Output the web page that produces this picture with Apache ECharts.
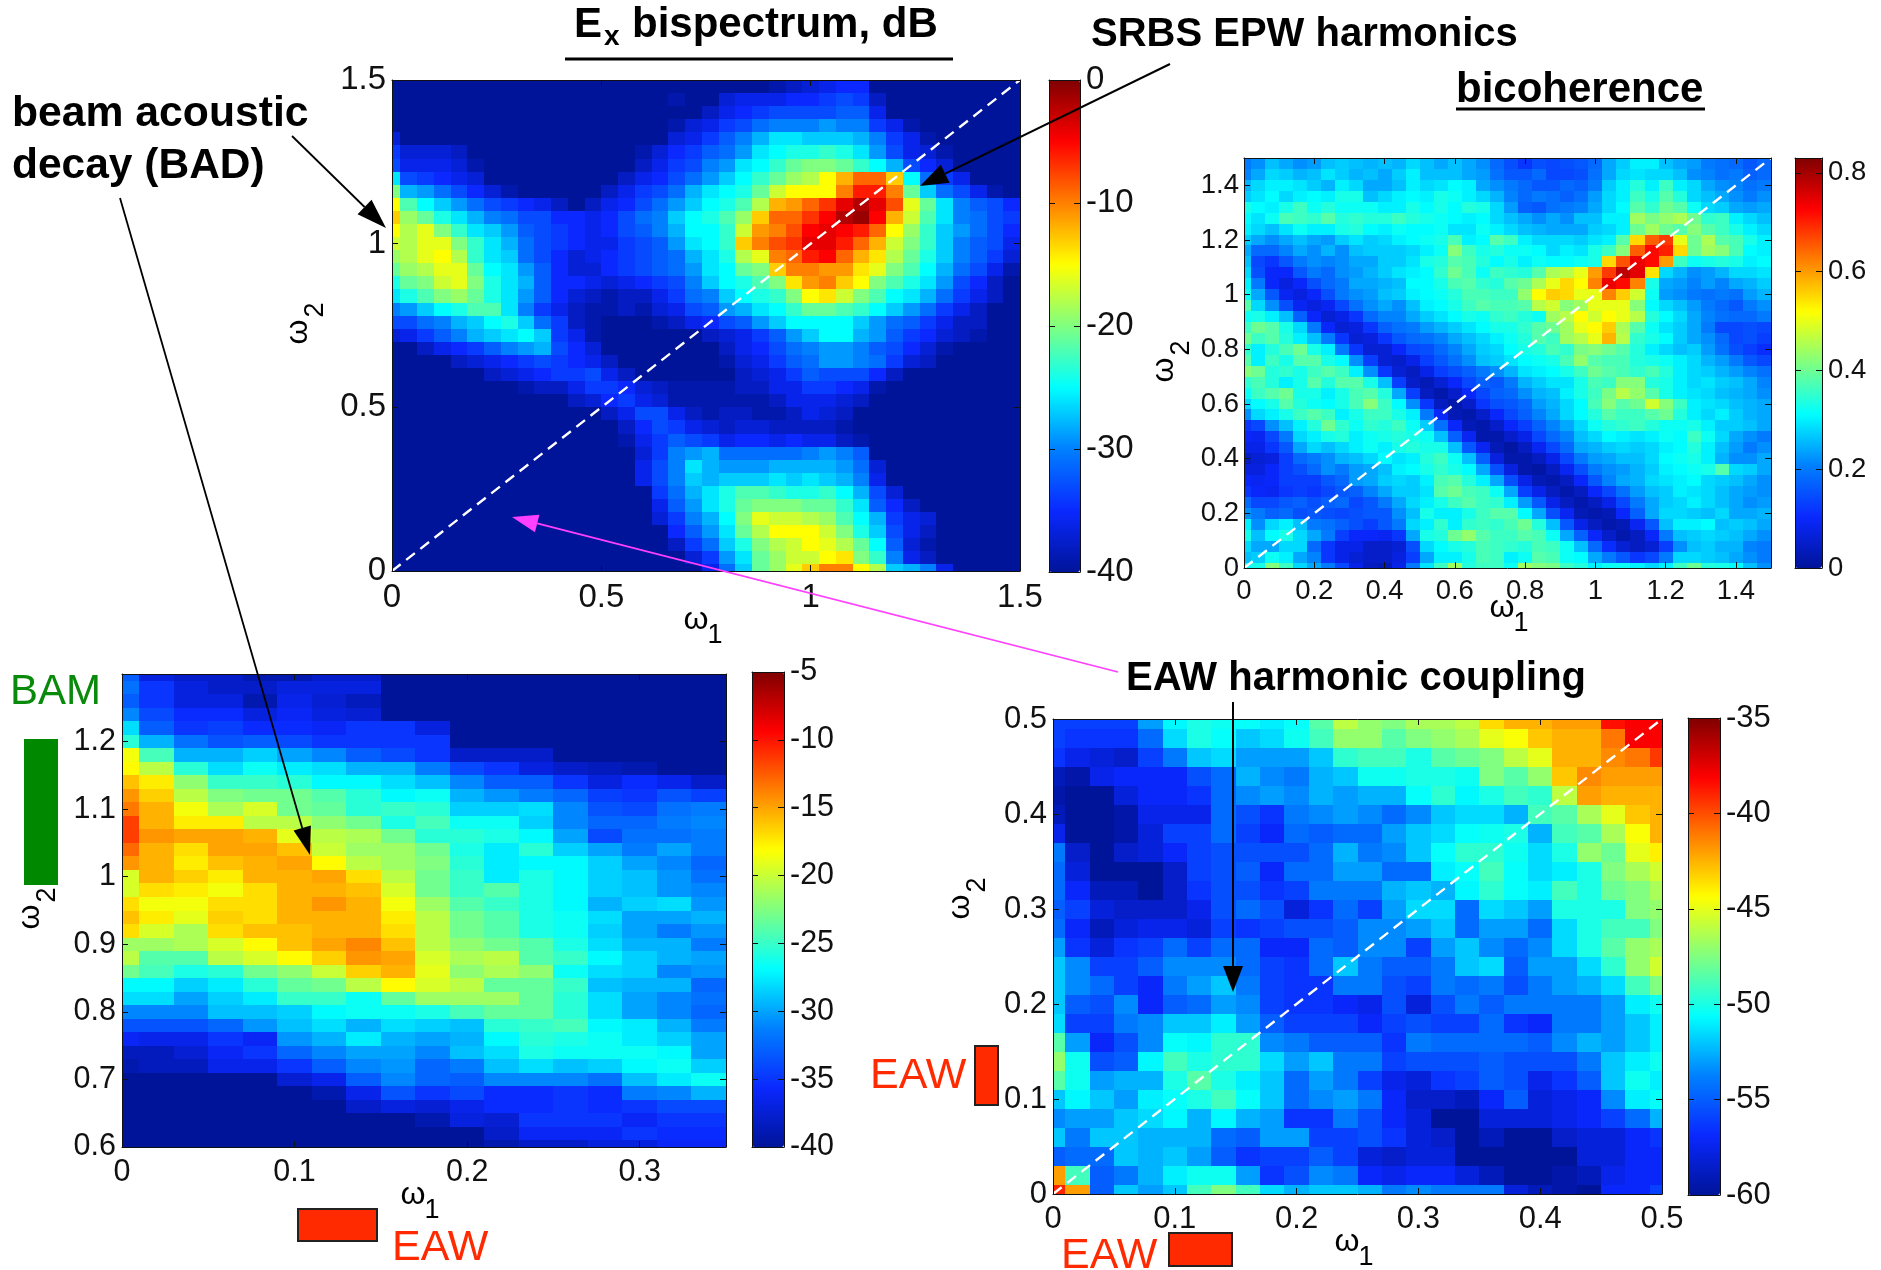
<!DOCTYPE html>
<html><head><meta charset="utf-8"><title>Bispectrum and bicoherence</title>
<style>html,body{margin:0;padding:0;background:#fff}#c{width:1881px;height:1270px}</style>
<script src="https://cdn.jsdelivr.net/npm/echarts@6/dist/echarts.min.js"></script></head>
<body><div id="c"></div>
<script>
// Top-left: Ex bispectrum, dB. Rows run from w2=1.48 down to w2=0, columns from w1=0 in steps of 0.04.
const bispectrumDb = [
[-40,-40,-40,-40,-40,-40,-40,-40,-40,-40,-40,-40,-40,-40,-40,-40,-40,-40,-40,-40,-40,-40,-40,-39,-38,-37,-36,-35,-35,-40,-40,-40,-40,-40,-40,-40,-40,-40],
[-40,-40,-40,-40,-40,-40,-40,-40,-40,-40,-40,-40,-40,-40,-40,-40,-40,-39,-40,-40,-37,-36,-36,-36,-35,-35,-34,-33,-34,-38,-40,-40,-40,-40,-40,-40,-40,-40],
[-40,-40,-40,-40,-40,-40,-40,-40,-40,-40,-40,-40,-40,-40,-40,-40,-40,-40,-40,-38,-36,-35,-34,-33,-33,-33,-33,-32,-32,-36,-40,-40,-40,-40,-40,-40,-40,-40],
[-40,-40,-40,-40,-40,-40,-40,-40,-40,-40,-40,-40,-40,-40,-40,-40,-40,-39,-37,-36,-34,-33,-31,-30,-30,-30,-29,-30,-30,-34,-36,-39,-40,-40,-40,-40,-40,-40],
[-37,-40,-40,-40,-40,-40,-40,-40,-40,-40,-40,-40,-40,-40,-40,-40,-40,-37,-36,-34,-32,-30,-28,-26,-26,-27,-27,-27,-28,-30,-34,-36,-39,-40,-40,-40,-40,-40],
[-34,-37,-37,-37,-38,-40,-40,-40,-40,-40,-40,-40,-40,-40,-40,-39,-37,-35,-34,-32,-31,-29,-26,-25,-24,-24,-23,-24,-26,-29,-33,-36,-37,-39,-40,-40,-40,-40],
[-33,-36,-36,-36,-37,-39,-40,-40,-40,-40,-40,-40,-40,-40,-40,-38,-36,-34,-33,-30,-29,-26,-25,-23,-21,-20,-20,-21,-23,-25,-28,-33,-35,-37,-40,-40,-40,-40],
[-26,-33,-34,-35,-36,-37,-40,-40,-40,-40,-40,-40,-40,-40,-38,-36,-35,-33,-31,-29,-27,-25,-23,-21,-19,-18,-15,-12,-9,-9,-13,-25,-31,-34,-36,-40,-40,-40],
[-20,-28,-29,-31,-33,-35,-37,-39,-40,-40,-40,-40,-40,-38,-36,-34,-33,-31,-28,-26,-25,-24,-21,-17,-15,-15,-15,-10,-6,-6,-10,-21,-27,-31,-33,-36,-39,-40],
[-15,-22,-25,-27,-29,-31,-33,-34,-35,-36,-38,-40,-38,-36,-35,-33,-31,-29,-27,-25,-24,-22,-18,-12,-11,-9,-7,-4,-2,-4,-8,-16,-21,-26,-30,-32,-33,-35],
[-13,-19,-21,-24,-26,-28,-30,-31,-33,-33,-35,-35,-36,-35,-33,-31,-30,-27,-25,-24,-22,-19,-13,-9,-9,-7,-5,-2,-1,-5,-12,-17,-22,-26,-30,-31,-33,-34],
[-15,-18,-16,-20,-23,-26,-27,-29,-32,-33,-34,-35,-36,-35,-33,-32,-30,-28,-25,-25,-23,-17,-11,-10,-8,-5,-4,-5,-6,-9,-15,-19,-23,-27,-29,-31,-33,-35],
[-17,-18,-16,-16,-20,-23,-26,-28,-31,-33,-34,-35,-36,-36,-34,-33,-32,-29,-26,-25,-23,-13,-10,-8,-7,-4,-4,-6,-9,-12,-17,-20,-23,-27,-30,-32,-33,-36],
[-19,-18,-16,-15,-18,-23,-26,-27,-31,-33,-35,-37,-36,-35,-34,-33,-32,-31,-28,-26,-24,-18,-16,-10,-9,-6,-5,-9,-12,-14,-18,-21,-24,-27,-30,-32,-34,-37],
[-21,-19,-18,-16,-16,-21,-25,-26,-29,-32,-35,-37,-37,-35,-34,-33,-32,-31,-29,-26,-25,-21,-20,-13,-10,-10,-11,-11,-14,-16,-20,-22,-25,-28,-31,-33,-36,-39],
[-24,-21,-20,-17,-16,-20,-24,-26,-28,-32,-35,-35,-36,-37,-36,-35,-34,-33,-30,-27,-25,-24,-22,-20,-14,-11,-10,-13,-15,-20,-22,-24,-26,-29,-33,-35,-38,-40],
[-26,-24,-22,-20,-19,-21,-24,-26,-29,-32,-35,-37,-38,-39,-38,-38,-36,-34,-31,-30,-27,-25,-24,-23,-20,-15,-14,-17,-20,-22,-25,-26,-28,-31,-34,-36,-38,-40],
[-30,-29,-27,-25,-24,-22,-22,-26,-30,-34,-36,-38,-39,-39,-38,-39,-37,-36,-33,-32,-29,-28,-26,-25,-23,-21,-21,-22,-23,-25,-27,-29,-31,-34,-36,-38,-40,-40],
[-33,-33,-31,-30,-28,-27,-25,-24,-27,-31,-34,-38,-39,-40,-40,-40,-39,-38,-36,-35,-33,-32,-29,-27,-25,-25,-25,-25,-27,-29,-31,-32,-34,-36,-38,-38,-40,-40],
[-37,-36,-34,-32,-30,-28,-27,-26,-25,-27,-34,-36,-39,-40,-40,-40,-40,-40,-40,-38,-37,-36,-34,-32,-29,-27,-25,-25,-28,-29,-32,-34,-35,-37,-38,-39,-40,-40],
[-40,-40,-38,-36,-35,-34,-32,-30,-29,-28,-33,-35,-37,-40,-40,-40,-40,-40,-40,-40,-38,-36,-35,-33,-31,-30,-29,-29,-30,-32,-33,-35,-37,-39,-40,-40,-40,-40],
[-40,-40,-40,-40,-38,-37,-36,-35,-34,-33,-34,-35,-36,-38,-40,-40,-40,-40,-40,-40,-39,-37,-36,-34,-32,-31,-29,-29,-30,-31,-34,-37,-38,-40,-40,-40,-40,-40],
[-40,-40,-40,-40,-40,-40,-38,-37,-36,-35,-34,-34,-33,-36,-38,-40,-40,-40,-40,-40,-40,-38,-37,-36,-34,-32,-33,-33,-33,-35,-38,-40,-40,-40,-40,-40,-40,-40],
[-40,-40,-40,-40,-40,-40,-40,-40,-39,-38,-38,-36,-34,-34,-35,-37,-38,-39,-39,-39,-39,-38,-38,-36,-36,-34,-34,-35,-36,-39,-40,-40,-40,-40,-40,-40,-40,-40],
[-40,-40,-40,-40,-40,-40,-40,-40,-40,-40,-40,-38,-37,-35,-34,-36,-37,-39,-39,-39,-39,-39,-39,-38,-36,-36,-36,-37,-38,-40,-40,-40,-40,-40,-40,-40,-40,-40],
[-40,-40,-40,-40,-40,-40,-40,-40,-40,-40,-40,-40,-40,-38,-36,-33,-33,-36,-38,-39,-38,-38,-39,-39,-38,-36,-37,-38,-40,-40,-40,-40,-40,-40,-40,-40,-40,-40],
[-40,-40,-40,-40,-40,-40,-40,-40,-40,-40,-40,-40,-40,-40,-38,-35,-33,-34,-36,-37,-38,-37,-37,-38,-38,-38,-38,-39,-40,-40,-40,-40,-40,-40,-40,-40,-40,-40],
[-40,-40,-40,-40,-40,-40,-40,-40,-40,-40,-40,-40,-40,-40,-39,-36,-34,-32,-33,-34,-36,-35,-35,-36,-35,-36,-36,-38,-39,-40,-40,-40,-40,-40,-40,-40,-40,-40],
[-40,-40,-40,-40,-40,-40,-40,-40,-40,-40,-40,-40,-40,-40,-40,-37,-34,-30,-29,-28,-31,-31,-31,-31,-31,-30,-29,-30,-32,-40,-40,-40,-40,-40,-40,-40,-40,-40],
[-40,-40,-40,-40,-40,-40,-40,-40,-40,-40,-40,-40,-40,-40,-40,-36,-33,-30,-26,-28,-29,-29,-29,-28,-28,-28,-28,-29,-31,-37,-40,-40,-40,-40,-40,-40,-40,-40],
[-40,-40,-40,-40,-40,-40,-40,-40,-40,-40,-40,-40,-40,-40,-40,-36,-33,-30,-27,-28,-27,-27,-27,-26,-27,-26,-27,-28,-30,-36,-40,-40,-40,-40,-40,-40,-40,-40],
[-40,-40,-40,-40,-40,-40,-40,-40,-40,-40,-40,-40,-40,-40,-40,-40,-34,-31,-28,-26,-24,-22,-22,-23,-24,-24,-23,-25,-28,-33,-37,-40,-40,-40,-40,-40,-40,-40],
[-40,-40,-40,-40,-40,-40,-40,-40,-40,-40,-40,-40,-40,-40,-40,-40,-36,-32,-29,-26,-24,-21,-20,-20,-20,-21,-21,-23,-26,-32,-35,-38,-40,-40,-40,-40,-40,-40],
[-40,-40,-40,-40,-40,-40,-40,-40,-40,-40,-40,-40,-40,-40,-40,-40,-37,-34,-30,-28,-25,-20,-16,-17,-17,-18,-19,-22,-25,-28,-34,-36,-37,-40,-40,-40,-40,-40],
[-40,-40,-40,-40,-40,-40,-40,-40,-40,-40,-40,-40,-40,-40,-40,-40,-40,-35,-32,-29,-26,-21,-18,-15,-15,-15,-17,-20,-24,-27,-33,-36,-38,-40,-40,-40,-40,-40],
[-40,-40,-40,-40,-40,-40,-40,-40,-40,-40,-40,-40,-40,-40,-40,-40,-40,-38,-34,-31,-27,-24,-20,-18,-17,-15,-16,-18,-21,-25,-32,-37,-39,-40,-40,-40,-40,-40],
[-40,-40,-40,-40,-40,-40,-40,-40,-40,-40,-40,-40,-40,-40,-40,-40,-40,-40,-37,-34,-29,-26,-21,-19,-17,-17,-15,-14,-20,-23,-30,-36,-38,-40,-40,-40,-40,-40],
[-40,-40,-40,-40,-40,-40,-40,-40,-40,-40,-40,-40,-40,-40,-40,-40,-40,-40,-40,-36,-31,-27,-21,-19,-16,-13,-10,-10,-15,-18,-27,-28,-30,-36,-40,-40,-40,-40]
];
// Top-right: bicoherence in hundredths. Rows from w2=1.48 down to 0, columns from w1=0 in steps of 0.04.
const bicoherencePct = [
[20,22,26,24,22,23,26,27,26,25,26,25,28,26,24,26,24,22,18,15,12,15,14,15,16,18,24,27,30,30,26,24,23,20,19,18,16,18],
[21,24,28,27,25,26,29,27,25,26,24,27,30,26,26,26,24,23,19,16,16,18,14,14,15,19,24,28,29,28,28,26,22,21,19,20,17,18],
[25,28,30,30,29,27,25,30,28,24,24,26,30,28,29,31,30,24,22,20,18,16,16,18,17,20,27,30,34,30,36,30,28,24,22,21,19,20],
[27,29,31,28,30,31,30,33,33,26,28,30,31,30,33,32,30,28,25,21,18,20,19,17,19,23,28,30,36,33,38,34,28,26,24,22,20,22],
[33,31,30,33,36,32,34,32,32,32,30,30,33,31,33,31,34,33,28,23,17,16,19,20,21,24,28,31,38,35,40,38,32,28,27,24,23,24],
[31,29,32,37,36,35,38,34,35,34,34,36,34,33,32,31,30,31,28,26,24,22,24,22,26,26,30,30,44,41,43,45,40,35,36,30,28,26],
[30,28,26,29,32,30,30,33,34,31,30,32,31,31,32,29,29,32,30,28,26,25,24,24,24,27,28,30,40,44,40,38,42,38,36,33,30,28],
[27,24,22,24,26,24,23,27,29,27,28,30,31,32,33,37,30,31,38,36,30,28,28,28,27,29,30,38,55,65,68,50,40,45,38,37,33,30],
[24,18,18,21,24,22,25,22,26,27,27,27,28,30,32,42,36,33,34,32,32,31,28,30,29,33,36,42,65,72,70,55,40,44,42,37,31,30],
[26,14,12,16,20,22,21,22,24,24,27,27,29,33,34,38,37,34,31,33,30,32,31,31,32,33,55,66,74,72,60,36,32,33,34,33,30,31],
[28,15,10,10,16,20,18,22,23,25,27,29,30,31,35,40,37,32,36,35,34,38,45,46,50,60,68,78,75,54,28,25,22,23,25,28,28,29],
[30,20,10,7,10,15,18,20,24,24,25,26,31,31,33,37,38,35,34,38,40,45,50,55,52,62,74,72,62,33,24,23,21,23,21,24,25,27],
[32,24,16,9,7,10,15,20,22,23,26,27,30,31,32,34,37,37,36,36,43,52,56,55,50,50,62,56,48,32,23,22,20,19,20,19,23,25],
[38,28,22,15,9,7,9,14,19,22,24,22,26,30,31,33,36,38,37,37,38,46,48,42,44,50,50,50,42,31,28,26,23,20,18,16,20,22],
[32,33,30,26,17,10,6,8,12,18,21,21,24,27,29,31,33,32,35,36,34,32,44,46,52,48,52,50,46,34,31,28,24,21,19,18,18,20],
[36,40,38,33,28,20,10,6,7,12,17,19,20,23,25,27,29,31,33,33,35,38,40,44,50,52,56,45,38,32,29,27,24,20,14,14,15,14],
[40,36,38,34,30,26,20,12,6,7,12,16,18,19,21,24,26,28,30,32,34,38,36,44,46,50,58,46,35,33,31,27,24,22,18,14,15,13],
[35,30,34,37,40,33,30,20,12,6,6,10,14,15,18,21,24,27,28,31,33,34,37,35,41,42,40,38,34,30,28,26,27,23,19,15,13,11],
[38,30,36,33,38,38,33,31,22,13,6,5,8,13,16,19,22,26,27,29,31,32,33,37,43,38,37,37,34,33,32,30,28,25,23,20,16,14],
[42,40,34,35,33,36,38,36,30,22,12,6,4,8,13,15,17,20,22,25,29,30,31,33,36,40,38,37,35,37,34,30,28,27,25,23,21,19],
[35,37,34,30,33,38,34,38,38,33,26,13,5,3,6,10,14,17,16,20,25,27,29,29,33,37,36,42,42,34,33,30,28,29,27,26,24,21],
[32,36,38,40,33,33,30,33,37,38,34,24,13,4,2,5,10,14,17,18,22,25,26,30,33,36,41,46,43,38,33,30,29,28,26,25,24,22],
[28,31,33,38,34,32,31,33,37,42,36,31,22,12,4,2,5,12,15,16,18,23,25,28,31,37,42,38,40,48,42,36,30,29,28,26,25,24],
[22,28,30,33,36,38,36,30,33,36,36,33,30,20,10,3,2,5,10,14,17,21,24,28,31,34,38,36,36,38,40,34,30,28,30,27,25,24],
[12,14,22,26,30,34,40,35,32,35,34,36,32,27,19,10,3,2,5,10,13,17,21,24,28,32,34,35,36,34,32,32,33,30,27,27,26,24],
[10,9,14,20,28,30,33,34,30,32,33,34,33,32,26,17,9,2,2,5,8,14,18,21,26,28,31,30,29,30,32,31,36,32,28,24,22,20],
[8,8,12,16,24,28,26,28,30,32,30,33,34,33,33,26,16,9,3,1,4,9,14,18,24,25,27,28,27,28,30,31,34,30,26,23,20,22],
[4,6,7,13,18,20,22,25,26,28,31,29,30,34,36,32,26,17,7,2,2,4,8,14,20,23,24,26,26,28,31,32,33,30,25,22,22,24],
[7,7,10,13,15,18,22,20,23,24,26,30,31,33,35,33,31,24,15,7,2,1,4,9,15,20,22,23,25,27,30,31,32,33,38,28,27,24],
[10,9,10,13,13,13,16,18,23,24,27,28,27,30,37,38,34,30,24,15,8,3,2,4,10,16,21,24,25,28,29,30,31,28,27,26,24,22],
[12,10,9,12,13,12,14,16,17,21,24,27,27,29,38,40,37,36,32,24,13,8,4,2,4,10,14,19,23,26,27,30,29,28,26,24,23,22],
[18,14,14,16,17,15,17,18,14,16,20,24,28,30,33,36,38,36,35,30,23,16,8,4,2,4,8,14,20,24,27,28,30,28,26,24,22,23],
[22,20,17,18,15,16,15,14,15,16,16,22,26,33,30,30,33,36,38,38,31,24,15,9,3,2,3,10,17,24,28,28,27,26,28,24,24,25],
[30,22,28,30,26,20,19,17,15,13,16,20,28,30,35,30,35,36,35,37,40,34,26,16,8,4,2,3,9,16,26,30,30,31,26,27,26,24],
[33,26,31,33,28,24,20,13,10,10,9,12,24,33,34,40,43,38,36,36,38,37,32,24,17,10,5,2,4,10,20,26,27,28,27,26,24,22],
[28,24,24,28,28,18,12,8,8,5,5,6,15,28,31,33,34,37,36,35,34,37,36,32,26,18,11,6,4,6,13,22,26,27,25,25,21,20],
[26,27,32,30,24,21,12,8,6,5,5,7,13,24,30,30,33,37,36,30,32,38,37,32,31,24,20,16,12,14,20,28,28,27,26,24,22,20],
[32,33,42,36,28,24,20,14,8,4,3,8,20,29,36,44,34,36,36,32,44,42,41,36,34,30,32,32,30,28,30,36,40,34,33,31,26,22]
];
// Bottom-left: dB. Rows from w2=1.30 down to 0.60 in steps of 0.02, columns from w1=0 to 0.34 in steps of 0.02.
const beamAcousticDb = [
[-33,-37,-38,-38,-39,-39,-38,-38,-40,-40,-40,-40,-40,-40,-40,-40,-40,-40],
[-32,-35,-37,-38,-38,-37,-37,-37,-40,-40,-40,-40,-40,-40,-40,-40,-40,-40],
[-33,-35,-37,-37,-39,-36.5,-37.5,-38.5,-40,-40,-40,-40,-40,-40,-40,-40,-40,-40],
[-31,-34,-35.5,-35.5,-37,-36,-37,-37.5,-40,-40,-40,-40,-40,-40,-40,-40,-40,-40],
[-28,-33,-35,-34.5,-35.5,-35.5,-36,-35,-35,-37,-40,-40,-40,-40,-40,-40,-40,-40],
[-25.5,-29.5,-32,-33.5,-33,-34,-35,-35,-35,-35,-40,-40,-40,-40,-40,-40,-40,-40],
[-18.5,-24.5,-29.5,-29.5,-28.5,-30,-31,-33,-34,-35,-38,-38,-38,-40,-40,-40,-40,-40],
[-18,-20.5,-25.5,-28,-26.5,-27.5,-28,-29.5,-29.5,-31.5,-34,-35,-37,-38,-38.5,-39,-40,-40],
[-16,-17.5,-22,-25,-25,-25.5,-27,-27,-28,-29,-31,-33,-33,-35,-37,-35.5,-36.5,-38],
[-14.5,-16.5,-20.5,-22.5,-23,-23,-24,-25.5,-27,-26.5,-29.5,-30.5,-31.5,-32.5,-34.5,-35,-33.5,-34.5],
[-13.5,-15.5,-18.5,-21,-19.5,-23,-23.5,-25.5,-25,-25.5,-28.5,-28.5,-28,-31,-33.5,-34,-32,-31.5],
[-11.5,-15.5,-17.5,-17.5,-20.5,-20.5,-22,-23,-26,-24.5,-26.5,-26.5,-28.5,-31,-32.5,-32.5,-31.5,-31],
[-11.5,-14.5,-15,-15,-15.5,-19,-20.5,-21,-23,-25.5,-25.5,-26,-27,-30,-34,-32,-32,-31.5],
[-13,-15.5,-17,-15,-15,-16,-20,-21.5,-21.5,-23,-26,-27.5,-25.5,-28.5,-30,-31.5,-30,-31.5],
[-14.5,-15.5,-17.5,-16,-15.5,-15,-18,-20.5,-21.5,-22.5,-25.5,-27.5,-27,-27,-28.5,-30,-31,-32.5],
[-19.5,-15.5,-16.5,-17.5,-15.5,-15.5,-15,-17,-20.5,-23,-25,-27.5,-26,-27,-28.5,-29,-30.5,-32],
[-19.5,-17,-17.5,-18.5,-17,-15.5,-15.5,-16,-19.5,-23,-25,-24,-26,-27,-28.5,-29,-30.5,-31],
[-17,-18.5,-18.5,-17,-17,-15.5,-14.5,-15.5,-18.5,-21.5,-24,-25,-26,-27,-29.5,-28.5,-28,-30.5],
[-16,-17.5,-19,-16.5,-17,-15.5,-15.5,-15.5,-17.5,-20.5,-23,-24,-26,-26.5,-28,-30,-30,-29.5],
[-17,-19.5,-21,-17,-16,-16,-15.5,-15.5,-17,-20.5,-23,-24,-26,-26.5,-28.5,-30,-31.5,-30.5],
[-21.5,-21.5,-21,-19.5,-18,-16,-15,-14,-16,-20.5,-22,-23,-24,-26,-28,-29.5,-29.5,-31.5],
[-20.5,-24,-24,-20.5,-19.5,-18,-16.5,-14.5,-15,-19.5,-21,-20.5,-24,-25,-27,-28.5,-29.5,-30],
[-23,-24.5,-26,-25.5,-23,-22,-20,-16.5,-15.5,-19,-22,-21,-22,-26.5,-28,-28.5,-31,-30.5],
[-27,-27,-28.5,-27.5,-25.5,-23.5,-23,-20.5,-18,-19.5,-20.5,-23.5,-23.5,-25,-29,-29.5,-29.5,-32.5],
[-28,-28,-30,-28.5,-27.5,-25,-25,-26.5,-23.5,-21.5,-21.5,-21.5,-23.5,-25.5,-28,-30,-31,-32],
[-31,-31,-31,-29,-29,-28.5,-27,-26.5,-26.5,-26,-24.5,-23.5,-23.5,-25.5,-28,-30,-31,-32.5],
[-33.5,-33.5,-33.5,-32.5,-30.5,-29,-28,-29.5,-28,-28.5,-29,-25.5,-25,-24.5,-27,-27.5,-29.5,-31.5],
[-36,-36.5,-36.5,-35,-36,-30.5,-29.5,-27.5,-29.5,-30,-29.5,-27,-25.5,-26,-26.5,-27.5,-28.5,-30],
[-38.5,-38.5,-37.5,-36,-35,-32.5,-31,-30,-30,-31,-29,-28,-26,-26.5,-26.5,-26.5,-27,-30],
[-39,-38.5,-38.5,-36.5,-36.5,-35,-33,-31,-30.5,-32.5,-31.5,-29,-28,-29,-28.5,-27,-26.5,-28.5],
[-40,-40,-40,-40,-40,-37.5,-36.5,-33,-31,-32.5,-33,-31,-31,-31,-32,-29,-27.5,-26.5],
[-40,-40,-40,-40,-40,-40,-39,-36.5,-33.5,-35,-34,-35.5,-35.5,-35,-35.5,-31.5,-31,-29.5],
[-40,-40,-40,-40,-40,-40,-40,-38,-37,-37.5,-36.5,-35.5,-35.5,-35,-35.5,-35,-34,-34],
[-40,-40,-40,-40,-40,-40,-40,-40,-40,-39,-37,-37.5,-35,-35,-35,-36,-35,-35],
[-40,-40,-40,-40,-40,-40,-40,-40,-40,-40,-40,-38,-36,-36,-36,-35,-35.5,-35.5],
[-40,-40,-40,-40,-40,-40,-40,-40,-40,-40,-40,-39,-38,-38,-37,-37,-36,-36]
];
// Bottom-right: dB. Rows from w2=0.50 down to 0, columns from w1=0 to 0.50, both in steps of 0.02.
const harmonicCouplingDb = [
[-56,-56,-56,-56,-53,-50.8,-50,-50.3,-50.5,-51,-50.5,-48.5,-46,-47,-47.5,-46.5,-46.5,-46,-43.5,-42.5,-42.5,-42,-42,-38.5,-38,-38],
[-56,-56.5,-56.5,-56.5,-54.5,-51.5,-50,-50.5,-52,-51.5,-50.3,-49,-47,-47,-48.5,-47.5,-47,-46.5,-45,-44.5,-43,-42.5,-42.5,-41,-38,-38],
[-56.5,-57.5,-58,-58.5,-56,-54,-52,-51.5,-53,-53,-53,-52,-49.5,-49,-49,-50,-48.5,-48,-47.5,-46,-45,-42.5,-42.5,-41.5,-41,-39.5],
[-59,-59.5,-57.5,-57,-57,-57,-55.5,-54.5,-52.5,-53.5,-54,-52.5,-52,-50.3,-50.3,-50,-50,-50.3,-47.5,-48.5,-47,-43,-41.5,-42,-42,-42],
[-59.5,-60,-60,-58,-57,-57,-56.5,-54.5,-53.5,-53,-53.5,-52.5,-53,-52.5,-52.5,-50.5,-49.5,-50.8,-50,-49,-49.5,-46,-42,-42.5,-42.5,-42.5],
[-59,-60,-60,-59.5,-57.5,-57.5,-57.5,-54.5,-55.5,-56.5,-54,-53.5,-53,-53.5,-54.5,-53.5,-52,-51.5,-51.5,-52.5,-49,-48.5,-46.5,-45,-43,-42.5],
[-57.5,-60,-60,-59.5,-58,-56,-56,-54.5,-56,-57,-54.5,-55,-54.5,-54.5,-53,-52,-51.5,-50.5,-50.3,-50,-52.5,-49,-48.5,-46.5,-44.5,-42.5],
[-54,-58.5,-60,-58.5,-58,-57,-56,-55.5,-55.5,-55.5,-55.5,-54.5,-52.5,-54,-53.5,-52,-50.5,-49.5,-49.5,-50.3,-51.5,-50,-47,-48,-45,-44],
[-54.5,-58,-60,-60,-60,-58.5,-56,-55.5,-55,-57,-54.5,-54.5,-53,-53,-54.5,-54.5,-51,-50.5,-49,-50.5,-51.5,-51,-50,-47.5,-46.5,-45.5],
[-54.5,-57,-59,-59,-60,-58.5,-56.5,-55.5,-55.5,-56.5,-56,-54,-54,-54,-52.5,-52,-52.5,-50.8,-49.5,-50.5,-51,-49,-50,-48,-47.5,-46.5],
[-55,-56,-58,-58.5,-58.5,-58.5,-57.5,-55.5,-54.5,-55.5,-58,-56.5,-54.5,-56,-53,-51.5,-51.5,-54.5,-51.5,-52,-53,-50,-50,-50,-47.5,-47],
[-54.5,-57,-59,-58,-57.5,-57.5,-58,-56,-56.5,-56,-55.5,-55.5,-55,-53.5,-53.5,-53,-52,-54.5,-53,-53,-54.5,-51.5,-50,-49,-49,-47.5],
[-53,-56.5,-58,-56.5,-56,-54.5,-56,-54.5,-54.5,-57,-57,-54.5,-55,-53.5,-53.5,-56,-53,-52,-53.5,-54.5,-53.5,-51.5,-50,-48.5,-47,-46.5],
[-52,-53.5,-56,-56,-55,-53.5,-53.5,-53.5,-54.5,-56,-56.5,-54.5,-52,-54,-55,-55,-54,-52,-51.5,-55,-53,-53,-51.5,-49.5,-47,-45.5],
[-52,-53.5,-54.5,-56,-57,-54,-53,-52,-54,-56,-56.5,-56.5,-54,-54,-55.5,-56,-54,-54.5,-54,-55.5,-54,-53,-52.5,-51.5,-49,-47.5],
[-52,-55,-55.5,-53.5,-57,-55,-54.5,-53,-53.5,-56,-56.5,-56.5,-57,-57.5,-55.5,-58,-55.5,-54,-55,-54,-54,-54,-54,-53,-51,-50.3],
[-51.5,-56,-56,-54,-53.5,-52,-52,-51,-53,-55,-56,-56,-56,-57,-56,-55.5,-56,-56,-54.5,-56.5,-57,-54,-54,-53,-52,-51],
[-48.5,-53,-57,-55.5,-53.5,-50.5,-50.8,-49.5,-49.5,-53.5,-54,-55,-55,-55,-56.5,-54,-54.5,-54.5,-54.5,-54.5,-55,-53.5,-52.5,-53,-52,-51],
[-47,-50.3,-55.5,-55,-50.8,-49,-50,-49.5,-49.5,-51.5,-53,-52,-54,-54,-56,-55.5,-55.5,-55.5,-55,-55.5,-55.5,-55.5,-54,-52,-51,-50.3],
[-48.5,-50.3,-53,-52.5,-52.5,-50,-48.5,-50,-51,-52,-54.5,-53,-54,-56,-57.5,-58,-56.5,-56,-55,-55.5,-57.5,-56.5,-55,-52,-50.3,-51],
[-52,-50.8,-52,-53,-51,-50.5,-50,-49,-50.5,-52,-54.5,-53.5,-53,-54,-57,-58.5,-58.5,-59,-57,-55,-58,-57.5,-57,-53.5,-51,-50.5],
[-53.5,-53,-53,-52,-51.5,-50.8,-52.5,-50.8,-52.5,-53,-56.5,-56.5,-54,-55.5,-57,-58,-60,-60,-58,-58,-58,-57.5,-57,-56,-54.5,-52.5],
[-52,-54,-52,-52,-52.5,-52.5,-52.5,-54.5,-55,-53,-53,-56,-56,-55.5,-56.5,-58,-58.5,-60,-59,-60,-60,-58.5,-58,-58,-57,-56.5],
[-55,-54.5,-54.5,-52,-52.5,-52,-53,-55,-56.5,-56,-56,-55,-56,-58,-58.5,-58,-58,-60,-60,-60,-60,-60,-58,-58,-57,-57],
[-42,-49,-55,-54,-52.5,-51,-50.3,-50.3,-53,-56.5,-55.5,-53.5,-54,-57,-57.5,-57,-57,-58,-59,-60,-60,-59.5,-59,-57.5,-57,-57],
[-39,-42,-55,-52,-53,-52,-49,-47.5,-49,-51.5,-52.5,-52,-52,-52.5,-54,-53.5,-54,-54,-54,-58,-59,-59.5,-60,-57,-57,-56]
];
const diagonalFull = [[0,0],[1.5,1.5]];
const diagonalLow = [[0,0],[0.5,0.5]];

// jet colour ramp as it appears in the reference
const jet = ['#001499','#0a28ff','#0080ff','#00ffff','#80ff80','#ffff00','#ff8000','#ff0000','#800000'];
const FONT = '"Liberation Sans", Arial, sans-serif';

// panel layouts in page pixels
const panels = [
 {box:[392,80,628,491], cbar:[1049,80,31,492], rows:bispectrumDb, scale:1, step:0.04, x:[0,1.5,0.5], y:[0,1.5,0.5], range:[-40,0], cbStep:10, diag:diagonalFull, font:33, hideMax:false, margin:10},
 {box:[1244,158,527,410], cbar:[1795,158,27,410], rows:bicoherencePct, scale:0.01, step:0.04, x:[0,1.5,0.2], y:[0,1.5,0.2], range:[0,0.83], cbStep:0.2, diag:diagonalFull, font:27.5, hideMax:true, margin:9},
 {box:[122,674,604,473], cbar:[752,672,32,475], rows:beamAcousticDb, scale:1, step:0.02, x:[0,0.35,0.1], y:[0.6,1.3,0.1], range:[-40,-5], cbStep:5, diag:null, font:30.5, hideMax:true, margin:10},
 {box:[1053,719,609,475], cbar:[1688,718,32,477], rows:harmonicCouplingDb, scale:1, step:0.02, x:[0,0.5,0.1], y:[0,0.5,0.1], range:[-60,-35], cbStep:5, diag:diagonalLow, font:31, hideMax:false, margin:10}
];

function cell(step){
  return function(params, api){
    const x = api.value(0), y = api.value(1);
    const a = api.coord([x - step/2, y + step/2]);
    const b = api.coord([x + step/2, y - step/2]);
    const x0 = Math.round(a[0]), y0 = Math.round(a[1]);
    const rect = echarts.graphic.clipRectByRect(
      {x:x0, y:y0, width:Math.round(b[0])-x0, height:Math.round(b[1])-y0}, params.coordSys);
    return rect && {type:'rect', shape:rect, style:{fill:api.visual('color')}};
  };
}
const black = {lineStyle:{color:'#111', width:1}};
const grid=[], xAxis=[], yAxis=[], series=[], visualMap=[];
function pos(b){ return {left:b[0], top:b[1], width:b[2], height:b[3], containLabel:false}; }
function axisBase(g, type, position, r, showLabel, font, hideMax, margin, showTick){
  return {type:'value', gridIndex:g, position, min:r[0], max:r[1], interval:r[2], z:6, silent:true,
    splitLine:{show:false}, axisLine:{show:true, onZero:false, ...black},
    axisTick:{show:showTick, inside:true, length:6, ...black},
    axisLabel:{show:showLabel, color:'#111', fontFamily:FONT, fontSize:font, margin, showMaxLabel:hideMax?false:true, showMinLabel:true, hideOverlap:false,
      padding:type==='y'?[5,0,0,0]:0}};
}
panels.forEach((p,i)=>{
  const g = grid.length;
  grid.push(pos(p.box));
  const ax = xAxis.length, ay = yAxis.length;
  xAxis.push(axisBase(g,'x','bottom',p.x,true,p.font,p.hideMax,p.margin,true));
  xAxis.push(axisBase(g,'x','top',p.x,false,p.font,p.hideMax,p.margin,true));
  yAxis.push(axisBase(g,'y','left',p.y,true,p.font,p.hideMax,p.margin-4,true));
  yAxis.push(axisBase(g,'y','right',p.y,false,p.font,p.hideMax,p.margin,true));
  const yTop = p.y[0] + (p.rows.length-1)*p.step;
  const data = [];
  p.rows.forEach((row,r)=>{
    if(row.length !== p.rows[0].length) console.error('row length', i, r, row.length);
    row.forEach((v,c)=>data.push([c*p.step, +(yTop - r*p.step).toFixed(4), +(v*p.scale).toFixed(3)]));
  });
  visualMap.push({type:'continuous', seriesIndex:series.length, dimension:2, min:p.range[0], max:p.range[1],
    left:p.cbar[0], top:p.cbar[1], itemWidth:p.cbar[2], itemHeight:p.cbar[3], padding:0, text:null, show:true,
    calculable:false, hoverLink:false, realtime:false, orient:'vertical', z:1, inRange:{color:jet}, textStyle:{fontSize:0}});
  series.push({type:'custom', coordinateSystem:'cartesian2d', xAxisIndex:ax, yAxisIndex:ay, data, renderItem:cell(p.step),
    encode:{x:0,y:1}, silent:true, animation:false, progressive:0, clip:true, z:2});
  if(p.diag) series.push({type:'line', xAxisIndex:ax, yAxisIndex:ay, data:p.diag, showSymbol:false, symbol:'none', silent:true, animation:false, z:4,
    lineStyle:{color:'#fff', width:2.4, type:[11,7]}});
  // colour bar scale
  const gc = grid.length;
  grid.push(pos(p.cbar));
  const bar = [p.range[0], p.range[1], p.cbStep];
  const unit = [0,1,1];
  const noTicksX = (position)=>axisBase(gc,'x',position,unit,false,p.font,false,0,false);
  xAxis.push(noTicksX('bottom')); xAxis.push(noTicksX('top'));
  yAxis.push(axisBase(gc,'y','left',bar,false,p.font,false,0,true));
  yAxis.push(axisBase(gc,'y','right',bar,true,p.font,p.range[1]%p.cbStep!==0,6,true));
});

// annotations
const g = [];
function txt(text,x,y,size,o){ o=o||{};
  g.push({type:'text', x, y:y+2, rotation:o.rot||0, z:20, silent:true, style:{text, fill:o.color||'#000', fontFamily:FONT, fontSize:size, fontWeight:o.bold?'bold':'normal',
    fontStyle:'normal', font:(o.bold?'bold ':'')+size+'px '+FONT, align:o.align||'left', textAlign:o.align||'left', verticalAlign:'middle', textVerticalAlign:'middle'}});
}
function box(x,y,w,h,fill,stroke){ g.push({type:'rect', z:15, silent:true, shape:{x,y,width:w,height:h}, style:{fill, stroke:stroke||null, lineWidth:stroke?2:0}}); }
function arrow(x0,y0,x1,y1,color,width,headLen,headW){
  const a=Math.atan2(y1-y0,x1-x0), c=Math.cos(a), s=Math.sin(a);
  const bx=x1-c*headLen, by=y1-s*headLen;
  g.push({type:'line', z:18, silent:true, shape:{x1:x0,y1:y0,x2:bx,y2:by}, style:{stroke:color, lineWidth:width}});
  g.push({type:'polygon', z:18, silent:true, shape:{points:[[x1,y1],[bx-s*headW,by+c*headW],[bx+s*headW,by-c*headW]]}, style:{fill:color}});
}
function omega(x,y,sub,vertical){
  if(vertical){ txt('ω',x,y-2,32,{rot:Math.PI/2,align:'center'}); txt(sub,x+18,y-24,27,{rot:Math.PI/2,align:'center'}); }
  else { txt('ω',x,y-2,32,{align:'center'}); txt(sub,x+19,y+14,27,{align:'center'}); }
}
txt('E',574,23,42,{bold:true}); txt('x',604,35,28,{bold:true}); txt('bispectrum, dB',632,23,42,{bold:true});
g.push({type:'line', z:18, silent:true, shape:{x1:565,y1:59,x2:953,y2:59}, style:{stroke:'#000', lineWidth:3}});
txt('SRBS EPW harmonics',1091,33,40,{bold:true});
txt('bicoherence',1456,88,42,{bold:true});
g.push({type:'line', z:18, silent:true, shape:{x1:1456,y1:109,x2:1705,y2:109}, style:{stroke:'#000', lineWidth:3}});
txt('beam acoustic',12,112,42.7,{bold:true});
txt('decay (BAD)',12,164,42.5,{bold:true});
txt('EAW harmonic coupling',1126,677,40,{bold:true});
txt('BAM',10,690,42,{color:'#0a8a0a'});
txt('EAW',392,1246,43,{color:'#ff2a00'});
txt('EAW',870,1074,43,{color:'#ff2a00'});
txt('EAW',1061,1254,43,{color:'#ff2a00'});
box(24,739,34,146,'#008800');
box(298,1209,79,32,'#ff2a00','#222');
box(975,1046,23,59,'#ff2a00','#222');
box(1169,1233,63,33,'#ff2a00','#222');
arrow(292,136,386,228,'#000',1.8,30,10);
arrow(120,198,310,855,'#000',1.8,28,9);
arrow(1170,64,920,186,'#000',2,28,10);
arrow(1118,672,512,517,'#ff40ff',1.8,26,9);
arrow(1233,702,1233,992,'#000',2,26,10);
omega(696,620,'1',false); omega(298,332,'2',true);
omega(1502,608,'1',false); omega(1164,370,'2',true);
omega(413,1195,'1',false); omega(30,917,'2',true);
omega(1347,1242,'1',false); omega(960,907,'2',true);

const chart = echarts.init(document.getElementById('c'), null, {renderer:'canvas'});
chart.setOption({animation:false, backgroundColor:'#fff', tooltip:{show:false}, grid, xAxis, yAxis, visualMap, series, graphic:{elements:g}});
</script></body></html>
